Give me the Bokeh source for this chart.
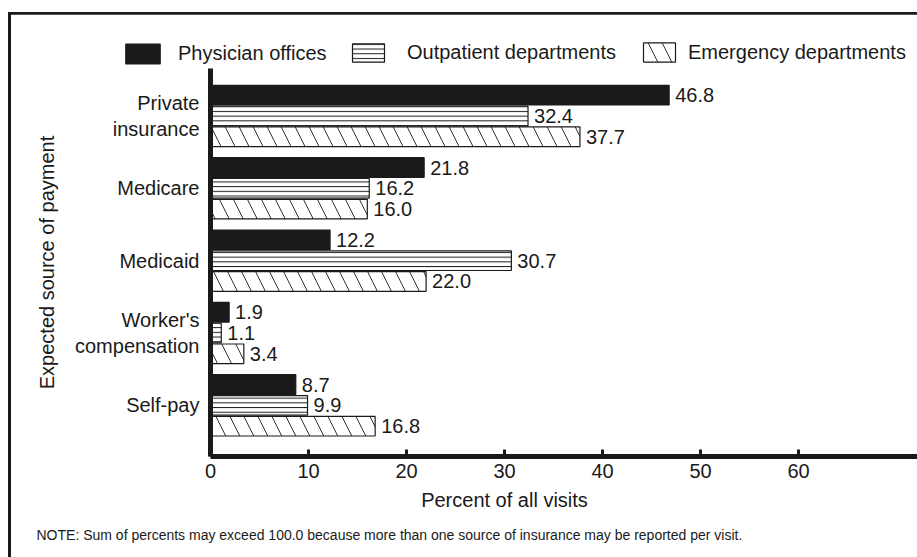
from bokeh.plotting import figure
from bokeh.models import ColumnDataSource, FixedTicker, Legend, LegendItem, Label, Range1d, BoxAnnotation
from bokeh.embed import file_html
from bokeh.resources import INLINE

# ---- data ----
categories = ["Private insurance", "Medicare", "Medicaid", "Worker's compensation", "Self-pay"]
category_labels = ["Private\ninsurance", "Medicare", "Medicaid", "Worker's\ncompensation", "Self-pay"]
physician = [46.8, 21.8, 12.2, 1.9, 8.7]
outpatient = [32.4, 16.2, 30.7, 1.1, 9.9]
emergency = [37.7, 16.0, 22.0, 3.4, 16.8]
series_names = ["Physician offices", "Outpatient departments", "Emergency departments"]
x_ticks = [0, 10, 20, 30, 40, 50, 60]
note_text = ("NOTE: Sum of percents may exceed 100.0 because more than one source "
             "of insurance may be reported per visit.")

FONT = "Liberation Sans"
INK = "#1a1a1a"
W, H = 917, 557
n = len(categories)
pos = [n - 1 - i for i in range(n)]      # Private insurance on top
step = 0.2877                             # bar pitch within a group
bar_h = 0.272

X0, X1 = -21.429, 72.143
Y0, Y1 = -2.1027, 5.596
X_AXIS_AT = -0.7055
Y_AXIS_TOP = 4.651
px_x = W / (X1 - X0)
px_y = H / (Y1 - Y0)

p = figure(width=W, height=H, output_backend="svg", toolbar_location=None,
           x_range=Range1d(X0, X1), y_range=Range1d(Y0, Y1), min_border=0,
           x_axis_location="below", y_axis_location="left")

p.xgrid.visible = False
p.ygrid.visible = False
p.outline_line_color = None
p.background_fill_color = "white"
p.border_fill_color = "white"

series = [physician, outpatient, emergency]
offsets = [step, 0.0, -step]
styles = [
    dict(fill_color=INK, line_color=INK),
    dict(fill_color="white", line_color=INK, hatch_pattern="-", hatch_scale=4.7,
         hatch_color=INK, hatch_weight=1),
    dict(fill_color="white", line_color=INK, hatch_pattern="\\", hatch_scale=28,
         hatch_color=INK, hatch_weight=0.9),
]
renderers = []
for vals, off, st in zip(series, offsets, styles):
    src = ColumnDataSource(dict(
        y=[q + off for q in pos], right=vals,
        lbl=[f"{v:.1f}" for v in vals]))
    r = p.hbar(y="y", left=0, right="right", height=bar_h, source=src,
               line_width=1.2, **st)
    renderers.append(r)
    p.text(x="right", y="y", text="lbl", source=src, x_offset=6,
           text_baseline="middle", text_align="left", text_font_size="20px",
           text_font={"value": FONT}, text_color=INK)

# ---- axes (drawn at fixed data positions inside the frame) ----
xa = p.xaxis[0]
xa.fixed_location = X_AXIS_AT
xa.bounds = (0, X1)
xa.ticker = FixedTicker(ticks=x_ticks)
xa.axis_line_width = 5
xa.axis_line_color = INK
xa.major_tick_line_width = 3
xa.major_tick_line_color = INK
xa.major_tick_in = 7
xa.major_tick_out = 0
xa.minor_tick_line_color = None
xa.major_label_text_font = FONT
xa.major_label_text_font_size = "20px"
xa.major_label_text_color = INK
xa.major_label_standoff = 8

ya = p.yaxis[0]
ya.fixed_location = 0
ya.bounds = (X_AXIS_AT, Y_AXIS_TOP)
ya.ticker = FixedTicker(ticks=pos)
ya.major_label_overrides = {q: lab for q, lab in zip(pos, category_labels)}
ya.axis_line_width = 5
ya.axis_line_color = INK
ya.major_tick_in = 0
ya.major_tick_out = 0
ya.minor_tick_line_color = None
ya.major_label_text_font = FONT
ya.major_label_text_font_size = "20px"
ya.major_label_text_color = INK
ya.major_label_standoff = 11
ya.axis_label = "Expected source of payment"
ya.axis_label_text_font = FONT
ya.axis_label_text_font_size = "20px"
ya.axis_label_text_font_style = "normal"
ya.axis_label_text_color = INK
ya.axis_label_standoff = 14

# x-axis title centred under the 0-60 ticks
p.add_layout(Label(x=(x_ticks[0] + x_ticks[-1]) / 2, y=58, x_units="data", y_units="screen",
                   text="Percent of all visits", text_align="center",
                   text_baseline="alphabetic", text_font=FONT, text_font_size="20px",
                   text_color=INK))
p.add_layout(Label(x=36, y=23, x_units="screen", y_units="screen",
                   text=note_text, text_align="left", text_baseline="alphabetic",
                   text_font=FONT, text_font_size="14px", text_color=INK))

# ---- legends (one per item so each can be placed individually) ----
leg_specs = [(121, 491, 43, 25, 14), (348, 493, 40, 23, 19), (639, 493, 40, 24, 9)]
for name, r, (lx, ly, gw, gh, sd) in zip(series_names, renderers, leg_specs):
    lg = Legend(items=[LegendItem(label=name, renderers=[r])], location=(lx, ly),
                orientation="horizontal", glyph_width=gw, glyph_height=gh,
                label_standoff=sd, padding=0, margin=0, spacing=0,
                border_line_color=None, background_fill_alpha=0,
                label_text_font=FONT, label_text_font_size="20px",
                label_text_color=INK, label_height=gh)
    p.add_layout(lg, "center")

# ---- frame border (left and top rules of the original box) ----
p.add_layout(BoxAnnotation(left=X0 + 7.5 / px_x, right=X0 + 10.5 / px_x,
                           top=Y1 - 11.5 / px_y, fill_color=INK, fill_alpha=1,
                           line_color=None, level="overlay"))
p.add_layout(BoxAnnotation(left=X0 + 7.5 / px_x, top=Y1 - 11.5 / px_y,
                           bottom=Y1 - 14.2 / px_y, fill_color=INK,
                           fill_alpha=1, line_color=None, level="overlay"))

open("out.html", "w").write(file_html(p, INLINE))
